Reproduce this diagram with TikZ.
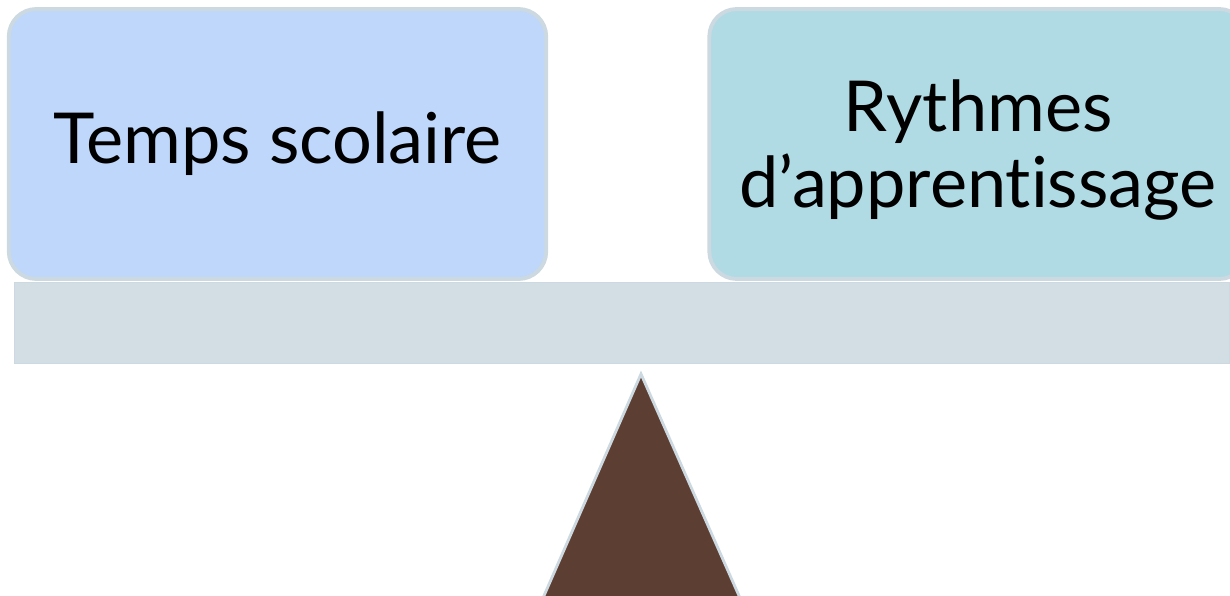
\documentclass[tikz,border=0pt]{standalone}
\usepackage{fontspec}
\setmainfont{Lato}[Ligatures=NoCommon]
\usepackage{tikz}

\definecolor{boxedge}{HTML}{CCD9E0}
\definecolor{leftfill}{HTML}{BED7FA}
\definecolor{rightfill}{HTML}{B0DBE5}
\definecolor{beamfill}{HTML}{D3DEE4}
\definecolor{pivotfill}{HTML}{5D3E33}

\tikzset{
  weight/.style = {draw=boxedge, line width=2.2pt, rounded corners=0.55cm,
    minimum width=10.75cm, minimum height=5.4cm, align=center,
    font=\fontsize{40}{43}\selectfont},
  beam/.style = {draw=boxedge, fill=beamfill, line width=1pt,
    minimum width=24.3cm, minimum height=1.62cm}
}

\begin{document}
\begin{tikzpicture}[x=0.02cm, y=-0.02cm]

\useasboundingbox (0, 0) rectangle (1230, 595);

\node[weight, fill=leftfill] (temps) at (277.5, 144) {Temps scolaire};
\node[weight, fill=rightfill] (rythmes) at (978, 144) {};
\node[align=center, font=\fontsize{40}{43}\selectfont] (rythmestext)
  at (978, 150) {Rythmes\\d'apprentissage};

\node[beam] (plank) at (622, 323) {};

\filldraw[draw=boxedge, fill=pivotfill, line width=1.6pt]
  (641, 374) -- (740, 598) -- (543, 598) -- cycle;

\end{tikzpicture}
\end{document}
